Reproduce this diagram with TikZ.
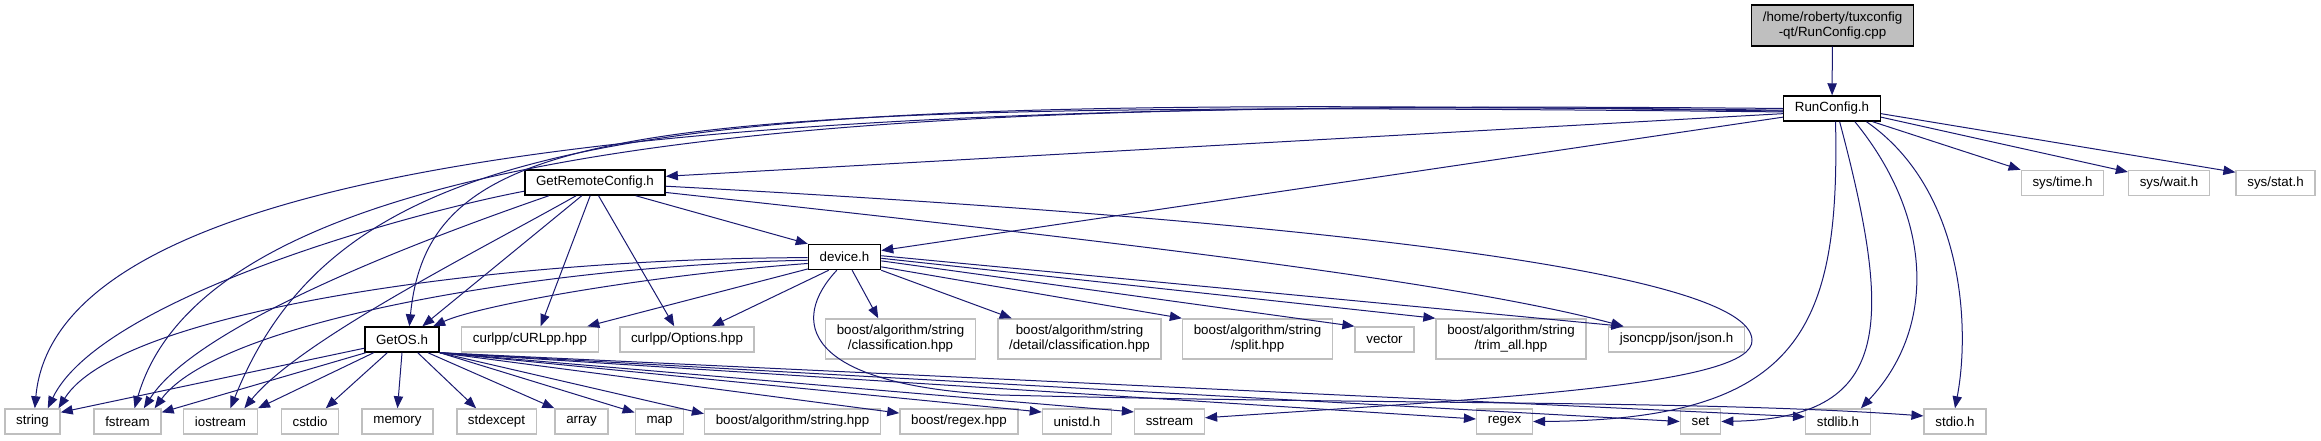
\documentclass[tikz,border=0pt]{standalone}
\usepackage{fontspec}
\setmainfont{Liberation Sans}
\usepackage{tikz}
\usetikzlibrary{arrows.meta, positioning}
\definecolor{edgeblue}{HTML}{191970}
\definecolor{boxgray}{HTML}{BFBFBF}

\begin{document}
\begin{tikzpicture}[
  x=0.75pt, y=-0.75pt,
  every node/.style={font=\fontsize{10}{11.25}\selectfont},
  hdr/.style={rectangle, line width=1.1pt, inner xsep=8.4pt, inner ysep=2pt,
              minimum height=18.75pt, align=center, fill=white},
  doc hdr/.style={hdr, draw=black},
  sys hdr/.style={hdr, draw=boxgray},
  src hdr/.style={hdr, draw=black, fill=boxgray, minimum height=30.75pt},
  two/.style={minimum height=30pt},
  dep/.style={-{Triangle[length=9pt,width=7pt]}, draw=edgeblue, line width=0.75pt}
]
\useasboundingbox (0,0) rectangle (2321,440);

%% source file
\node[src hdr] (cpp) at (1832.5,25.5) {/home/roberty/tuxconfig\\-qt/RunConfig.cpp};

%% project headers
\node[doc hdr] (rc)  at (1832,108.5) {RunConfig.h};
\node[doc hdr] (grc) at (595,182.5)  {GetRemoteConfig.h};
\node[doc hdr] (dev) at (844.5,257)  {device.h};
\node[doc hdr] (gos) at (402,339.5)  {GetOS.h};

%% middle row
\node[sys hdr] (curl) at (530,339.5) {curlpp/cURLpp.hpp};
\node[sys hdr] (opts) at (687,339.5) {curlpp/Options.hpp};
\node[sys hdr, two] (cls)   at (900.5,339)  {boost/algorithm/string\\/classification.hpp};
\node[sys hdr, two] (dcls)  at (1079.5,339) {boost/algorithm/string\\/detail/classification.hpp};
\node[sys hdr, two] (split) at (1257.5,339) {boost/algorithm/string\\/split.hpp};
\node[sys hdr] (vec) at (1384.5,339.5) {vector};
\node[sys hdr, two] (trim)  at (1511,339)   {boost/algorithm/string\\/trim\_all.hpp};
\node[sys hdr] (json) at (1676.5,339.5) {jsoncpp/json/json.h};

%% sys headers, top right
\node[sys hdr] (stime) at (2062.5,183) {sys/time.h};
\node[sys hdr] (swait) at (2169,183)   {sys/wait.h};
\node[sys hdr] (sstat) at (2275.5,183) {sys/stat.h};

%% bottom row
\node[sys hdr] (str)    at (32.5,421.5)   {string};
\node[sys hdr] (fstr)   at (127.5,421.5)  {fstream};
\node[sys hdr] (iostr)  at (220.5,421.5)  {iostream};
\node[sys hdr] (cstdio) at (310,421.5)    {cstdio};
\node[sys hdr] (mem)    at (397.5,421.5)  {memory};
\node[sys hdr] (stdexc) at (496.5,421.5)  {stdexcept};
\node[sys hdr] (arr)    at (581.5,421.5)  {array};
\node[sys hdr] (map)    at (659.5,421.5)  {map};
\node[sys hdr] (bstr)   at (792.5,421.5)  {boost/algorithm/string.hpp};
\node[sys hdr] (bregex) at (959,421.5)    {boost/regex.hpp};
\node[sys hdr] (unistd) at (1077,421.5)   {unistd.h};
\node[sys hdr] (sstr)   at (1169.5,421.5) {sstream};
\node[sys hdr] (regex)  at (1504.5,421.5) {regex};
\node[sys hdr] (set)    at (1700.5,421.5) {set};
\node[sys hdr] (stdlib) at (1838,421.5)   {stdlib.h};
\node[sys hdr] (stdio)  at (1955,421.5)   {stdio.h};

%% RunConfig.cpp
\draw[dep] (cpp) -- (rc);

%% RunConfig.h
\draw[dep] (rc.186) -- (grc.5);
\draw[dep] (rc.190) -- (dev.10);
\draw[dep] (rc.180) .. controls (900,100) and (60,125) .. (str.80);
\draw[dep] (rc.182) .. controls (1000,100) and (220,110) .. (fstr.62);
\draw[dep] (rc.183) .. controls (700,95) and (350,110) .. (iostr.53);
\draw[dep] (rc.184) .. controls (650,100) and (430,115) .. (gos.61);
\draw[dep] (rc.342) -- (stime.north west);
\draw[dep] (rc.350) -- (swait.165);
\draw[dep] (rc.354) -- (sstat.165);
\draw[dep] (rc.285) .. controls (1840,330) and (1800,420) .. (regex.east);
\draw[dep] (rc.300) .. controls (1895,330) and (1890,418) .. (set.east);
\draw[dep] (rc.330) .. controls (1935,220) and (1935,330) .. (stdlib.30);
\draw[dep] (rc.339) .. controls (1965,190) and (1970,330) .. (stdio.north);

%% GetRemoteConfig.h
\coordinate (loop) at (1752,340);
\draw[dep] (grc.187) .. controls (400,215) and (100,300) .. (str.41);
\draw[dep] (grc.196) .. controls (450,230) and (200,320) .. (fstr.39);
\draw[dep] (grc.215) .. controls (480,250) and (300,340) .. (iostr.29);
\draw[dep] (grc.225) -- (gos.33);
\draw[dep] (grc.250) -- (curl.51);
\draw[dep] (grc.285) -- (opts.134);
\draw[dep] (grc.342) -- (dev.north west);
\draw[dep] (grc.352) .. controls (1100,240) and (1450,280) .. (json.166);
\draw[dep] (grc.357) .. controls (1300,220) and (1750,270) .. (loop)
  .. controls (1755,385) and (1500,398) .. (sstr.6);

%% device.h
\coordinate (dip) at (1000,395);
\draw[dep] (dev.181) .. controls (500,258) and (120,310) .. (str.27);
\draw[dep] (dev.185) .. controls (550,265) and (220,320) .. (fstr.26);
\draw[dep] (dev.190) .. controls (650,275) and (480,305) .. (gos.23);
\draw[dep] (dev.198) -- (curl.13);
\draw[dep] (dev.220) -- (opts.28);
\draw[dep] (dev.300) -- (cls.137);
\draw[dep] (dev.south east) -- (dcls.163);
\draw[dep] (dev.345) -- (split.north west);
\draw[dep] (dev.354) -- (vec.north west);
\draw[dep] (dev.358) -- (trim.north west);
\draw[dep] (dev.2) -- (json.166);
\draw[dep] (dev.240) .. controls (790,320) and (800,385) .. (dip)
  .. controls (1400,405) and (1700,400) .. (stdio.170);

%% GetOS.h
\draw[dep] (gos.193) -- (str.18);
\draw[dep] (gos.200) -- (fstr.15);
\draw[dep] (gos.205) -- (iostr.north east);
\draw[dep] (gos.222) -- (cstdio.40);
\draw[dep] (gos.south) -- (mem.north);
\draw[dep] (gos.320) -- (stdexc.147);
\draw[dep] (gos.333) -- (arr.north west);
\foreach \t/\a in {map/160, bstr/175, bregex/172, unistd/165, sstr/165,
                   regex/175, set/180, stdlib/172}
  \draw[dep] (gos.south east) -- (\t.\a);
\end{tikzpicture}
\end{document}
